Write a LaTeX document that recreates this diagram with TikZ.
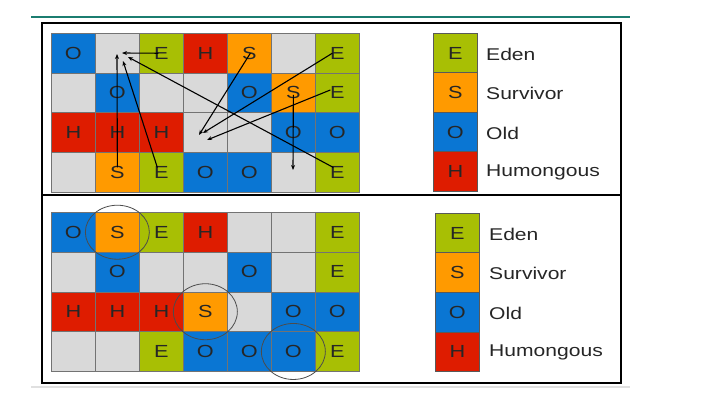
\documentclass[tikz,border=0pt]{standalone}
\usepackage{fontspec}
\setmainfont{Liberation Sans}
\newfontfamily\widesans[FakeStretch=1.24]{Liberation Sans}
\usetikzlibrary{arrows.meta,calc}
\definecolor{cE}{HTML}{A8BF04}
\definecolor{cS}{HTML}{FF9A00}
\definecolor{cO}{HTML}{0A76D3}
\definecolor{cH}{HTML}{DE1C00}
\definecolor{cG}{HTML}{D9D9D9}
\definecolor{rule}{HTML}{1B7D70}
\def\gG{G}
\begin{document}
\begin{tikzpicture}[x=1pt,y=-1pt,
  cell/.style={draw=black!55, line width=0.7pt, minimum width=44pt, minimum height=39.75pt,
    inner sep=0pt, anchor=north west, font=\widesans\fontsize{17.5}{17.5}\selectfont, text=black!85},
  legcell/.style={cell, draw=black!65, minimum height=39.5pt},
  leglabel/.style={anchor=west, inner sep=0pt, font=\widesans\fontsize{17}{17}\selectfont, text=black!85},
  frame/.style={line width=2.4pt, black},
  move/.style={line width=1.1pt, black, -{Stealth[length=5pt,width=4pt]}},
  ring/.style={draw=black!70, line width=0.8pt}]
\useasboundingbox (0,0) rectangle (707,406);
\fill[white] (0,0) rectangle (707,406);
% top rule and shadow
\draw[rule, line width=1.6pt] (31,17) -- (630,17);
\draw[black!12, line width=2pt] (31,387) -- (630,387);
% top grid
\foreach \row [count=\r] in {{O,G,E,H,S,G,E},{G,O,G,G,O,S,E},{H,H,H,G,G,O,O},{G,S,E,O,O,G,E}} {
  \foreach \l [count=\c] in \row {
    \node[cell, fill=c\l] (t-\r-\c) at ({51+44*(\c-1)},{33+39.75*(\r-1)}) {\ifx\l\gG\else\l\fi};
  }
}
% bottom grid
\foreach \row [count=\r] in {{O,S,E,H,G,G,E},{G,O,G,G,O,G,E},{H,H,H,S,G,O,O},{G,G,E,O,O,O,E}} {
  \foreach \l [count=\c] in \row {
    \node[cell, fill=c\l] (b-\r-\c) at ({51+44*(\c-1)},{212+39.75*(\r-1)}) {\ifx\l\gG\else\l\fi};
  }
}
% legends
\foreach \l/\name [count=\i] in {E/Eden,S/Survivor,O/Old,H/Humongous} {
  \node[legcell, fill=c\l] (lt-\i) at (433,{33+39.5*(\i-1)}) {\l};
  \node[leglabel] (ltx-\i) at (486,{54+39.5*(\i-1)}) {\name};
  \node[legcell, fill=c\l] (lb-\i) at (435,{213+39.5*(\i-1)}) {\l};
  \node[leglabel] (lbx-\i) at (489,{234+39.5*(\i-1)}) {\name};
}
% arrow end points
\coordinate (e1) at (122,53);
\coordinate (e2) at (117,54);
\coordinate (e3) at (123,61);
\coordinate (e4) at (128,57);
\coordinate (e5) at (199,135);
\coordinate (e6) at (203,133);
\coordinate (e7) at (207,140);
\coordinate (e8) at (293,170);
\draw[move] ($(t-1-3.center)+(-3,0)$) -- (e1);
\draw[move] ($(t-4-2.center)+(0,-5)$) -- (e2);
\draw[move] ($(t-4-3.center)+(-4,-5)$) -- (e3);
\draw[move] ($(t-4-7.center)+(-4,-5)$) -- (e4);
\draw[move] ($(t-1-5.center)+(1,0)$) -- (e5);
\draw[move] ($(t-1-7.center)+(-5,0)$) -- (e6);
\draw[move] ($(t-2-7.center)+(-7,-3)$) -- (e7);
\draw[move] ($(t-2-6.center)+(0,2)$) -- (e8);
% rings
\draw[ring] (b-1-2.center) ellipse [x radius=32, y radius=27];
\draw[ring] (b-3-4.center) ellipse [x radius=32, y radius=28];
\draw[ring] (b-4-6.center) ellipse [x radius=32, y radius=28];
% frames
\draw[frame] (42,23) rectangle (621,383);
\draw[frame] (42,195) -- (621,195);
\end{tikzpicture}
\end{document}
